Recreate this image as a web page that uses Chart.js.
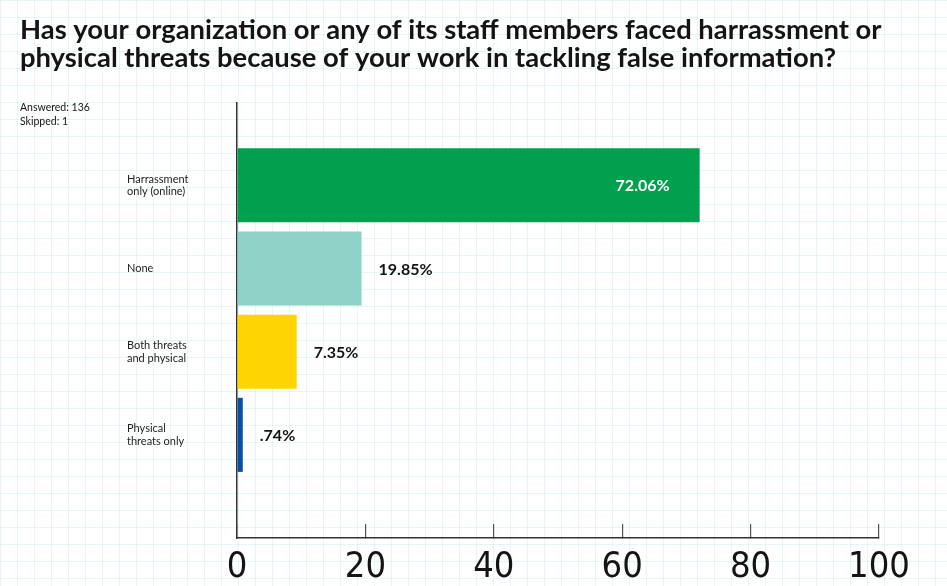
<!DOCTYPE html>
<html>
<head>
<meta charset="utf-8">
<script src="https://cdn.jsdelivr.net/npm/chart.js@4.4.1/dist/chart.umd.min.js"></script>
<style>
  html, body { margin: 0; padding: 0; }
  body {
    width: 947px;
    height: 586px;
    overflow: hidden;
    background-color: #fff;
    background-image:
      linear-gradient(to right, rgba(165, 222, 232, 0.28) 1px, transparent 1px),
      linear-gradient(to bottom, rgba(165, 222, 232, 0.28) 1px, transparent 1px);
    background-size: 17px 17px;
  }
  #wrap { position: relative; width: 947px; height: 586px; }
</style>
</head>
<body>
<div id="wrap"><canvas id="chart"></canvas></div>
<script>
// Survey question: harassment / threats faced by fact-checking orgs.
var TITLE_LINES = [
  'Has your organization or any of its staff members faced harrassment or',
  'physical threats because of your work in tackling false information?'
];
var NOTE_LINES = ['Answered: 136', 'Skipped: 1'];

var CATEGORIES = [
  ['Harrassment', 'only (online)'],
  ['None'],
  ['Both threats', 'and physical'],
  ['Physical', 'threats only']
];
// bar lengths as drawn in the picture (the printed labels differ a little)
var BAR_VALUES = [72.06, 19.4, 9.3, 0.9];
var VALUE_LABELS = ['72.06%', '19.85%', '7.35%', '.74%'];
var X_TICKS = [0, 20, 40, 60, 80, 100];

var BAR_COLORS = ['#00a04f', '#8fd3c8', '#ffd400', '#0a4fa0'];
var TEXT_COLOR = '#141414';
var AXIS_COLOR = '#333333';
var TEXT_FONT = "Lato, 'Open Sans', sans-serif";
var TICK_FONT = "'Liberation Sans Narrow', 'DejaVu Sans Condensed', 'Roboto Condensed', sans-serif";

var headerText = {
  id: 'headerText',
  beforeDraw: function (chart) {
    var ctx = chart.ctx;
    ctx.save();
    ctx.fillStyle = TEXT_COLOR;
    ctx.textAlign = 'left';
    ctx.textBaseline = 'alphabetic';
    ctx.font = '700 27.4px ' + TEXT_FONT;
    TITLE_LINES.forEach(function (line, i) {
      ctx.fillText(line, 20, 39 + i * 28);
    });
    ctx.font = '10.5px ' + TEXT_FONT;
    NOTE_LINES.forEach(function (line, i) {
      ctx.fillText(line, 20, 111 + i * 13.5);
    });
    ctx.restore();
  }
};

var valueLabels = {
  id: 'valueLabels',
  afterDatasetsDraw: function (chart) {
    var ctx = chart.ctx;
    var meta = chart.getDatasetMeta(0);
    ctx.save();
    ctx.font = '700 16px ' + TEXT_FONT;
    ctx.textBaseline = 'middle';
    meta.data.forEach(function (bar, i) {
      var inside = BAR_VALUES[i] > 50;
      ctx.fillStyle = inside ? '#ffffff' : TEXT_COLOR;
      ctx.textAlign = inside ? 'right' : 'left';
      ctx.fillText(VALUE_LABELS[i], inside ? bar.x - 30 : bar.x + 17, bar.y + 1);
    });
    ctx.restore();
  }
};

var el = document.getElementById('chart');
// eslint-disable-next-line no-new
new Chart(el, {
  type: 'bar',
  data: {
    datasets: [
      {
        data: BAR_VALUES.map(function (v, i) {
          return { x: v, y: i };
        }),
        backgroundColor: BAR_COLORS,
        borderWidth: 0,
        categoryPercentage: 1,
        barPercentage: 0.89
      }
    ]
  },
  options: {
    indexAxis: 'y',
    responsive: true,
    maintainAspectRatio: false,
    animation: false,
    layout: { padding: { left: 127, top: 103, right: 68, bottom: 0 } },
    plugins: {
      legend: { display: false },
      tooltip: { enabled: false }
    },
    scales: {
      x: {
        type: 'linear',
        min: 0,
        max: 100,
        afterBuildTicks: function (scale) {
          scale.ticks = X_TICKS.map(function (v) {
            return { value: v };
          });
        },
        afterFit: function (scale) {
          scale.height = 48;
        },
        grid: { drawOnChartArea: false, tickLength: -14, color: '#555', lineWidth: 1.2 },
        border: { color: AXIS_COLOR, width: 1.5 },
        ticks: {
          padding: 22,
          color: TEXT_COLOR,
          maxRotation: 0,
          font: { family: TICK_FONT, size: 36, weight: 'normal' }
        }
      },
      y: {
        type: 'linear',
        reverse: true,
        offset: false,
        min: -0.99,
        max: 4.24,
        afterBuildTicks: function (scale) {
          scale.ticks = CATEGORIES.map(function (c, i) {
            return { value: i };
          });
        },
        afterFit: function (scale) {
          scale.width = 110;
        },
        grid: { display: false, offset: false },
        border: { color: AXIS_COLOR, width: 1.5 },
        ticks: {
          autoSkip: false,
          crossAlign: 'far',
          color: '#222',
          font: { family: TEXT_FONT, size: 11, lineHeight: 1.15 },
          callback: function (v) {
            return CATEGORIES[v];
          }
        }
      }
    }
  },
  plugins: [headerText, valueLabels]
});
</script>
</body>
</html>
